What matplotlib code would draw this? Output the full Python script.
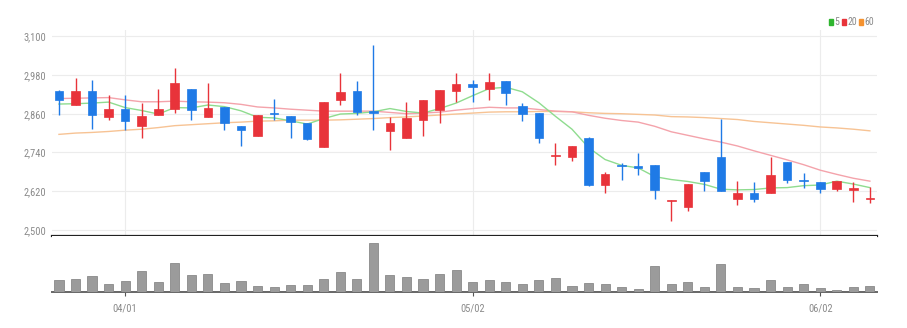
import matplotlib
matplotlib.use('Agg')
import matplotlib.pyplot as plt
from matplotlib.patches import Rectangle
from matplotlib import font_manager as fm
import numpy as np

opens  = [2930, 2886, 2930, 2851, 2874, 2821, 2855, 2875, 2938, 2851,
          2880, 2823, 2791, 2863, 2854, 2830, 2756, 2901, 2930, 2867,
          2806, 2786, 2842, 2871, 2931, 2951, 2936, 2960, 2884, 2861,
          2729, 2725, 2786, 2639, 2702, 2697, 2700, 2588, 2572, 2678,
          2725, 2595, 2614, 2615, 2709, 2654, 2647, 2626, 2624, 2595]
highs  = [2935, 2971, 2966, 2917, 2917, 2892, 2938, 3002, 2938, 2956,
          2880, 2823, 2855, 2906, 2854, 2830, 2896, 2985, 2962, 3072,
          2851, 2896, 2904, 2933, 2985, 2964, 2985, 2960, 2892, 2861,
          2768, 2760, 2789, 2678, 2706, 2737, 2700, 2592, 2643, 2678,
          2845, 2652, 2647, 2727, 2709, 2675, 2647, 2652, 2647, 2634]
lows   = [2855, 2886, 2814, 2842, 2811, 2784, 2855, 2863, 2840, 2851,
          2811, 2761, 2791, 2842, 2786, 2778, 2756, 2886, 2855, 2811,
          2748, 2786, 2791, 2830, 2897, 2897, 2902, 2886, 2836, 2768,
          2701, 2714, 2637, 2615, 2655, 2670, 2595, 2526, 2560, 2619,
          2619, 2577, 2585, 2615, 2644, 2629, 2613, 2619, 2586, 2582]
closes = [2901, 2930, 2855, 2874, 2837, 2854, 2874, 2956, 2871, 2878,
          2831, 2811, 2855, 2859, 2835, 2781, 2896, 2926, 2866, 2863,
          2830, 2848, 2904, 2933, 2952, 2944, 2959, 2923, 2860, 2786,
          2732, 2760, 2639, 2674, 2697, 2692, 2624, 2592, 2643, 2652,
          2619, 2614, 2595, 2670, 2655, 2650, 2626, 2652, 2629, 2598]
volumes = [37, 39, 48, 23, 34, 64, 30, 86, 51, 55,
           28, 34, 19, 16, 21, 21, 39, 59, 38, 146,
           51, 46, 40, 55, 65, 30, 37, 30, 23, 37,
           42, 19, 28, 25, 16, 10, 79, 23, 30, 14,
           83, 14, 12, 37, 15, 25, 11, 7, 16, 19]
ma5  = [2890, 2891, 2893, 2896, 2879, 2870, 2859, 2879, 2878, 2887,
        2882, 2869, 2849, 2847, 2838, 2828, 2845, 2859, 2861, 2866,
        2876, 2867, 2862, 2876, 2893, 2916, 2938, 2942, 2928, 2894,
        2852, 2812, 2755, 2718, 2700, 2692, 2665, 2656, 2650, 2641,
        2626, 2624, 2625, 2630, 2631, 2637, 2639, 2651, 2642, 2631]
ma20 = [2907, 2908, 2909, 2910, 2903, 2897, 2897, 2899, 2897, 2896,
        2894, 2889, 2881, 2878, 2874, 2871, 2868, 2868, 2868, 2868,
        2864, 2860, 2862, 2865, 2871, 2876, 2880, 2878, 2878, 2873,
        2868, 2866, 2855, 2846, 2839, 2834, 2821, 2804, 2793, 2782,
        2772, 2760, 2745, 2731, 2717, 2702, 2685, 2672, 2660, 2651]
ma60 = [2796, 2800, 2802, 2805, 2809, 2812, 2817, 2823, 2826, 2829,
        2832, 2834, 2837, 2838, 2840, 2840, 2840, 2841, 2843, 2845,
        2848, 2850, 2853, 2856, 2859, 2862, 2865, 2866, 2866, 2867,
        2867, 2866, 2863, 2861, 2860, 2858, 2856, 2851, 2850, 2848,
        2845, 2842, 2836, 2832, 2828, 2824, 2819, 2816, 2812, 2807]
tick_idx = [4, 25, 46]
tick_labels = ['04/01', '05/02', '06/02']
price_ticks = [2500, 2620, 2740, 2860, 2980, 3100]
legend_labels = ['5', '20', '60']

UP = '#e8333a'
DOWN = '#1f7ae6'
LEG_COLORS = ['#2fb52f', '#e8333a', '#f5922f']
MA_COLORS = ['#8fdc8f', '#f4a3ab', '#f7c394']
installed = set(f.name for f in fm.fontManager.ttflist)
FONT = [f for f in ['Roboto Condensed', 'Archivo Narrow', 'Asap Condensed', 'DejaVu Sans']
        if f in installed] or ['DejaVu Sans']
TXT = '#8a8a8a'

W, H = 907, 328
fig = plt.figure(figsize=(W / 100, H / 100), dpi=100)

def fx(px):
    return px / W

def fy(py):
    return 1 - py / H

ax = fig.add_axes([fx(52), fy(236), fx(877 - 52), fy(30) - fy(236)])
axv = fig.add_axes([fx(52), fy(292), fx(877 - 52), fy(236) - fy(292)])

n = len(closes)
x = np.arange(n)
o = np.array(opens, float)
c = np.array(closes, float)
h = np.array(highs, float)
l = np.array(lows, float)
up = c >= o
cols = np.where(up, UP, DOWN)

for ma, col in zip([ma60, ma20, ma5], [MA_COLORS[2], MA_COLORS[1], MA_COLORS[0]]):
    ax.plot(x, ma, color=col, lw=1.0, zorder=2)

ax.vlines(x, l, h, colors=cols, lw=1.0, zorder=3)
bottoms = np.minimum(o, c)
heights = np.maximum(np.abs(c - o), 2.5)
ax.bar(x, heights, bottom=bottoms, width=0.52, color=cols, edgecolor=cols, lw=0.5, zorder=4)

xlim = (-0.42, 49.43)
ax.set_xlim(*xlim)
ax.set_ylim(2481, 3119.5)
ax.set_yticks(price_ticks)
ax.set_yticklabels([f'{v:,}' for v in price_ticks], family=FONT, fontsize=7.5, color=TXT)
ax.tick_params(axis='y', length=0, pad=4)
ax.set_xticks(tick_idx)
ax.tick_params(axis='x', length=0, labelbottom=False)
ax.grid(True, color='#ececec', lw=0.8)
ax.set_axisbelow(True)
for s in ['top', 'right', 'left']:
    ax.spines[s].set_visible(False)
ax.spines['bottom'].set_color('#222222')
ax.spines['bottom'].set_linewidth(1.6)

axv.bar(x, volumes, width=0.55, color='#9b9b9b', edgecolor='#8a8a8a', lw=0.6, zorder=3)
axv.set_xlim(*xlim)
axv.set_ylim(0, 168)
axv.set_yticks([])
axv.set_xticks(tick_idx)
axv.set_xticklabels(tick_labels, family=FONT, fontsize=7.5, color=TXT)
axv.tick_params(axis='x', length=3, width=0.8, color='#555555', pad=5, direction='out')
for s in ['top', 'right', 'left']:
    axv.spines[s].set_visible(False)
axv.spines['bottom'].set_color('#666666')
axv.spines['bottom'].set_linewidth(1.4)

lx = [829, 842, 859]
for px, col, lab in zip(lx, LEG_COLORS, legend_labels):
    fig.patches.append(Rectangle((fx(px), fy(25)), fx(3.5), fy(19) - fy(25),
                                 transform=fig.transFigure, color=col))
    fig.text(fx(px + 5.5), fy(22), lab, family=FONT, fontsize=7, color=TXT,
             va='center', ha='left')

fig.savefig('out.png', dpi=100)
